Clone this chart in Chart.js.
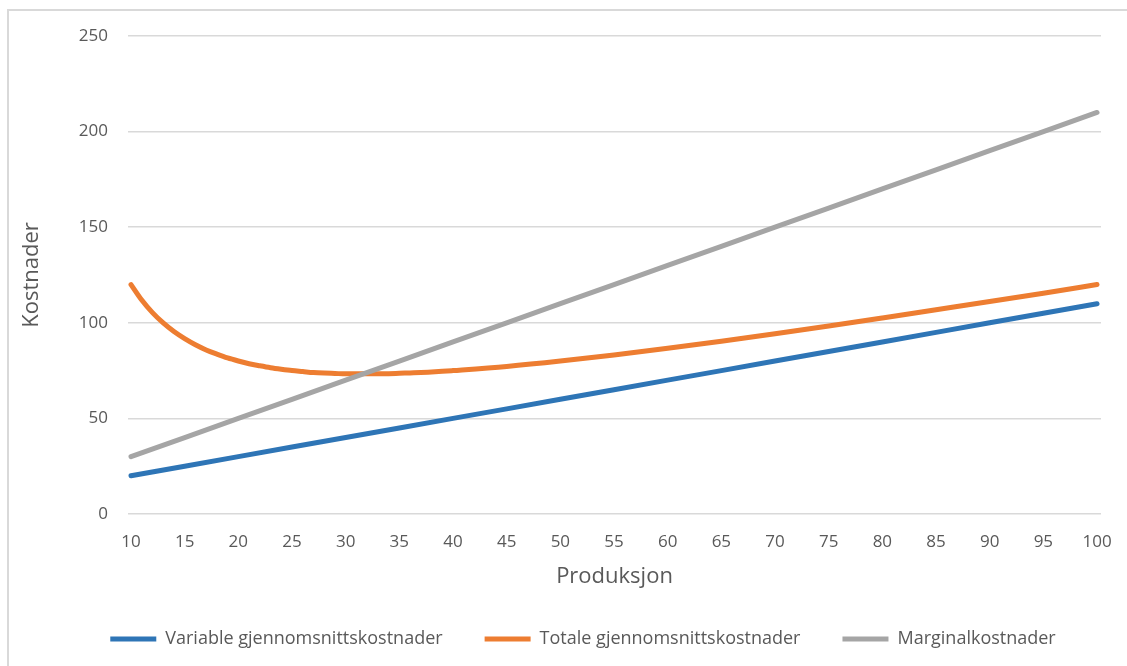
<!DOCTYPE html>
<html>
<head>
<meta charset="utf-8">
<script src="https://cdn.jsdelivr.net/npm/chart.js@4.4.1/dist/chart.umd.min.js"></script>
<style>
  html, body { margin: 0; padding: 0; background: #fff; }
  #wrap { position: relative; width: 1127px; height: 666px; overflow: hidden; }
  #frame { position: absolute; left: 7px; top: 9px; width: 1200px; height: 700px;
           border-left: 2px solid #d9d9d9; border-top: 2px solid #d9d9d9; pointer-events: none; }
  canvas { position: absolute; left: 0; top: 0; }
</style>
</head>
<body>
<div id="wrap">
  <canvas id="costChart" width="1127" height="666"></canvas>
  <div id="frame"></div>
</div>
<script>
// produksjon (x) og kostnader lest av figuren
var xLinear = [10, 15, 20, 25, 30, 35, 40, 45, 50, 55, 60, 65, 70, 75, 80, 85, 90, 95, 100];
var variableCost = [20, 25, 30, 35, 40, 45, 50, 55, 60, 65, 70, 75, 80, 85, 90, 95, 100, 105, 110];
var marginalCost = [30, 40, 50, 60, 70, 80, 90, 100, 110, 120, 130, 140, 150, 160, 170, 180, 190, 200, 210];

var xTotal = [10, 11, 12, 13, 14, 15, 16, 17, 18, 19, 20, 21, 22, 23, 24, 25, 26, 27, 28, 29,
  30, 31, 32, 33, 34, 35, 36, 37, 38, 39, 40, 45, 50, 55, 60, 65, 70, 75, 80, 85, 90, 95, 100];
var totalCost = [120.0, 111.9, 105.3, 99.9, 95.4, 91.7, 88.5, 85.8, 83.6, 81.6, 80.0, 78.6, 77.5, 76.5,
  75.7, 75.0, 74.5, 74.0, 73.7, 73.5, 73.3, 73.3, 73.3, 73.3, 73.4, 73.6, 73.8, 74.0, 74.3, 74.6,
  75.0, 77.2, 80.0, 83.2, 86.7, 90.4, 94.3, 98.3, 102.5, 106.8, 111.1, 115.5, 120.0];

var seriesNames = ['Variable gjennomsnittskostnader', 'Totale gjennomsnittskostnader', 'Marginalkostnader'];
var xTicks = [10, 15, 20, 25, 30, 35, 40, 45, 50, 55, 60, 65, 70, 75, 80, 85, 90, 95, 100];
var yTicks = [0, 50, 100, 150, 200, 250];

function toPoints(xs, ys) {
  return xs.map(function (x, i) { return { x: x, y: ys[i] }; });
}

var textColor = '#595959';
var fontFamily = '"Open Sans", "Noto Sans", sans-serif';

// flytter forklaringen litt, slik som i Excel-figuren
var legendShift = {
  id: 'legendShift',
  afterLayout: function (chart) {
    var lg = chart.legend;
    lg.left += 25; lg.right += 25;
    lg.top -= 6; lg.bottom -= 6;
  }
};

var costChart = new Chart(document.getElementById('costChart'), {
  type: 'line',
  data: {
    datasets: [{
      label: seriesNames[0],
      data: toPoints(xLinear, variableCost),
      borderColor: '#2e75b6',
      backgroundColor: '#2e75b6',
      borderWidth: 5,
      borderCapStyle: 'round',
      pointRadius: 0,
      order: 3
    }, {
      label: seriesNames[1],
      data: toPoints(xTotal, totalCost),
      borderColor: '#ed7d31',
      backgroundColor: '#ed7d31',
      borderWidth: 5,
      borderCapStyle: 'round',
      cubicInterpolationMode: 'monotone',
      pointRadius: 0,
      order: 2
    }, {
      label: seriesNames[2],
      data: toPoints(xLinear, marginalCost),
      borderColor: '#a5a5a5',
      backgroundColor: '#a5a5a5',
      borderWidth: 5,
      borderCapStyle: 'round',
      pointRadius: 0,
      order: 1
    }]
  },
  plugins: [legendShift],
  options: {
    responsive: false,
    animation: false,
    layout: { padding: { left: 15, right: 26, top: 36, bottom: 2 } },
    plugins: {
      tooltip: { enabled: false },
      legend: {
        position: 'bottom',
        labels: {
          usePointStyle: true,
          pointStyle: 'line',
          pointStyleWidth: 46,
          padding: 42,
          color: textColor,
          font: { family: fontFamily, size: 18 },
          sort: function (a, b) { return a.datasetIndex - b.datasetIndex; }
        }
      }
    },
    scales: {
      x: {
        type: 'linear',
        min: 9.72,
        max: 100.37,
        afterBuildTicks: function (scale) { scale.ticks = xTicks.map(function (v) { return { value: v }; }); },
        grid: { display: false },
        border: { display: false },
        ticks: { padding: 10, color: textColor, font: { family: fontFamily, size: 17 } },
        title: { display: true, text: 'Produksjon', color: textColor, font: { family: fontFamily, size: 22 } },
        afterFit: function (scale) { scale.height = 80; }
      },
      y: {
        min: 0,
        max: 250,
        afterBuildTicks: function (scale) { scale.ticks = yTicks.map(function (v) { return { value: v }; }); },
        grid: { color: '#d9d9d9', lineWidth: 1.5, drawTicks: false },
        border: { display: false },
        ticks: { padding: 20, color: textColor, font: { family: fontFamily, size: 17 } },
        title: { display: true, text: 'Kostnader', color: textColor, font: { family: fontFamily, size: 22 } },
        afterFit: function (scale) { scale.width = 113; }
      }
    }
  }
});
</script>
</body>
</html>
